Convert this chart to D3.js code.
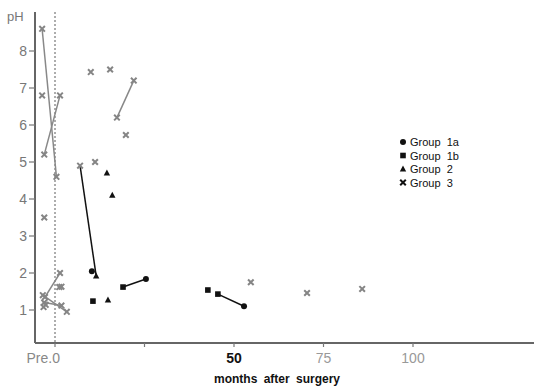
<!DOCTYPE html>
<html>
<head>
<meta charset="utf-8">
<script src="https://cdn.jsdelivr.net/npm/d3@7"></script>
<style>
  body { margin: 0; background: #fff; }
  text { font-family: "Liberation Sans", Arial, sans-serif; }
</style>
</head>
<body>
<svg id="chart" width="534" height="390"></svg>
<script>
// data: each patient is a list of [month, pH, group]; "Pre" is plotted a little left of 0
var PRE = -3.2
var patients = [
  [[PRE - 0.4, 8.6, "3"], [0.4, 4.6, "3"]],
  [[PRE - 0.4, 6.8, "3"]],
  [[PRE + 0.2, 5.2, "3"], [1.4, 6.8, "3"]],
  [[PRE + 0.2, 3.5, "3"]],
  [[10, 7.43, "3"]],
  [[15.4, 7.5, "3"]],
  [[17.3, 6.2, "3"], [22, 7.2, "3"]],
  [[19.8, 5.73, "3"]],
  [[7, 4.9, "3"], [11.5, 1.92, "2"]],
  [[11.2, 5.0, "3"]],
  [[14.5, 4.7, "2"]],
  [[16, 4.1, "2"]],
  [[14.8, 1.27, "2"]],
  [[10.3, 2.05, "1a"]],
  [[10.6, 1.24, "1b"]],
  [[19, 1.62, "1b"], [25.4, 1.84, "1a"]],
  [[42.7, 1.54, "1b"]],
  [[45.5, 1.43, "1b"], [52.8, 1.1, "1a"]],
  [[54.7, 1.75, "3"]],
  [[70.4, 1.46, "3"]],
  [[85.8, 1.57, "3"]],
  [[PRE + 0.4, 1.35, "3"], [1.4, 2.0, "3"]],
  [[PRE - 0.2, 1.4, "3"], [3.3, 0.95, "3"]],
  [[PRE + 0.2, 1.2, "3"], [1.8, 1.12, "3"]],
  [[1.2, 1.62, "3"]],
  [[1.8, 1.63, "3"]],
  [[PRE, 1.08, "3"]],
  [[PRE + 0.6, 1.14, "3"]]
]
var groups = ["1a", "1b", "2", "3"]
var yTicks = [1, 2, 3, 4, 5, 6, 7, 8]
var xTicks = [0, 25, 50, 75, 100]

var svg = d3.select("#chart")

var x = d3.scaleLinear().domain([0, 100]).range([55, 413])
var y = d3.scaleLinear().domain([1, 8]).range([310, 51])

var colour = {"1a": "#111", "1b": "#111", "2": "#111", "3": "#858585"}

// axes
var axisY = 343, axisX = 35
svg.append("line").attr("x1", axisX).attr("x2", axisX).attr("y1", 12).attr("y2", axisY)
  .attr("stroke", "#666").attr("stroke-width", 2)
svg.append("line").attr("x1", axisX).attr("x2", 534).attr("y1", axisY).attr("y2", axisY)
  .attr("stroke", "#666").attr("stroke-width", 2)
svg.append("line").attr("x1", x(0)).attr("x2", x(0)).attr("y1", 12).attr("y2", axisY)
  .attr("stroke", "#777").attr("stroke-width", 1.2).attr("stroke-dasharray", "2,2")

var yt = svg.append("g").selectAll("g").data(yTicks).enter().append("g")
yt.append("line").attr("x1", axisX - 6).attr("x2", axisX).attr("y1", d => y(d)).attr("y2", d => y(d))
  .attr("stroke", "#777").attr("stroke-width", 1.2)
yt.append("text").attr("x", axisX - 8).attr("y", d => y(d) + 5).attr("text-anchor", "end")
  .attr("font-size", 14).attr("fill", "#777").text(d => d)
svg.append("text").attr("x", 7).attr("y", 21).attr("font-size", 13).attr("fill", "#777").text("pH")

var xt = svg.append("g").selectAll("g").data(xTicks).enter().append("g")
xt.append("line").attr("x1", d => x(d)).attr("x2", d => x(d)).attr("y1", axisY).attr("y2", axisY + 4)
  .attr("stroke", "#777").attr("stroke-width", 1.2)
xt.filter(d => d > 25).append("text").attr("x", d => x(d)).attr("y", 363).attr("text-anchor", "middle")
  .attr("font-size", 14).attr("font-weight", d => d == 50 ? "bold" : "normal")
  .attr("fill", d => d == 50 ? "#111" : "#999").text(d => d)
svg.append("text").attr("x", x(0) + 5).attr("y", 363).attr("text-anchor", "end")
  .attr("font-size", 14).attr("fill", "#888").text("Pre.0")
svg.append("text").attr("x", 277).attr("y", 383).attr("text-anchor", "middle")
  .attr("font-size", 12).attr("font-weight", "bold").attr("fill", "#111").attr("word-spacing", 3)
  .text("months after surgery")

// connecting lines
svg.append("g").selectAll("line").data(patients.filter(p => p.length > 1)).enter().append("line")
  .attr("x1", p => x(p[0][0])).attr("y1", p => y(p[0][1]))
  .attr("x2", p => x(p[1][0])).attr("y2", p => y(p[1][1]))
  .attr("stroke", p => p[0][2] == "3" && p[1][2] == "3" ? "#888" : "#111")
  .attr("stroke-width", 1.5)

// markers
function marker(sel, g, c) {
  if (g == "1a") sel.append("circle").attr("r", 3).attr("fill", c)
  else if (g == "1b") sel.append("rect").attr("x", -2.8).attr("y", -2.8).attr("width", 5.6).attr("height", 5.6).attr("fill", c)
  else if (g == "2") sel.append("path").attr("d", "M0,-3.5L3.2,2.5L-3.2,2.5Z").attr("fill", c)
  else sel.append("path").attr("d", "M-2.8,-2.8L2.8,2.8M2.8,-2.8L-2.8,2.8").attr("stroke", c).attr("stroke-width", 2)
}
var obs = patients.flat()
svg.append("g").selectAll("g").data(obs).enter().append("g")
  .attr("transform", d => "translate(" + x(d[0]) + "," + y(d[1]) + ")")
  .each(function(d) { marker(d3.select(this), d[2], colour[d[2]]) })

// legend
var leg = svg.append("g").selectAll("g").data(groups).enter().append("g")
  .attr("transform", (d, i) => "translate(403," + (142 + i * 13.5) + ")")
leg.each(function(d) { marker(d3.select(this), d, "#111") })
leg.append("text").attr("x", 7).attr("y", 4).attr("font-size", 11).attr("fill", "#111")
  .attr("word-spacing", 3).text(d => "Group " + d)
</script>
</body>
</html>
